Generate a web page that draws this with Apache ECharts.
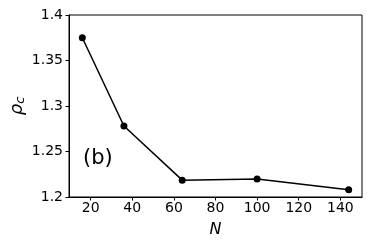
<!DOCTYPE html>
<html>
<head>
<meta charset="utf-8">
<script src="https://cdn.jsdelivr.net/npm/echarts@6/dist/echarts.min.js"></script>
<style>html,body{margin:0;padding:0;background:#fff;}#c{width:374px;height:249px;}</style>
</head>
<body>
<div id="c"></div>
<script>
const nValues = [16, 36, 64, 100, 144];
const rhoValues = [1.375, 1.278, 1.2185, 1.2198, 1.208];
const xTicks = [20, 40, 60, 80, 100, 120, 140];
const yTicks = [1.2, 1.25, 1.3, 1.35, 1.4];

const chart = echarts.init(document.getElementById('c'), null, {renderer: 'canvas'});
const font = 'DejaVu Sans';
chart.setOption({
  animation: false,
  backgroundColor: '#fff',
  grid: {left: 69, right: 12, top: 15, bottom: 52, show: true, borderColor: '#000', borderWidth: 1, backgroundColor: 'transparent', containLabel: false, outerBoundsMode: 'none'},
  xAxis: {
    type: 'value', min: 9.6, max: 150.4,
    name: 'N', nameLocation: 'middle', nameGap: 25, nameMoveOverlap: false,
    nameTextStyle: {fontFamily: font, fontStyle: 'italic', fontSize: 16, color: '#000'},
    axisLine: {show: true, lineStyle: {color: '#000', width: 1}},
    axisTick: {show: true, length: 3.5, lineStyle: {color: '#000'}, customValues: xTicks},
    axisLabel: {fontFamily: font, fontSize: 14, color: '#000', margin: 4, customValues: xTicks},
    splitLine: {show: false}
  },
  yAxis: {
    type: 'value', min: 1.2, max: 1.4,
    name: '{a|ρ}{b|c}', nameLocation: 'middle', nameGap: 41, nameRotate: 90, nameMoveOverlap: false,
    nameTextStyle: {rich: {
      a: {fontFamily: font, fontStyle: 'italic', fontSize: 18, color: '#000', lineHeight: 22},
      b: {fontFamily: font, fontStyle: 'italic', fontSize: 13, color: '#000', lineHeight: 22, padding: [8, 0, 0, 0]}
    }},
    axisLine: {show: true, lineStyle: {color: '#000', width: 1}},
    axisTick: {show: true, length: 3.5, lineStyle: {color: '#000'}, customValues: yTicks},
    axisLabel: {fontFamily: font, fontSize: 14, color: '#000', margin: 6, customValues: yTicks},
    splitLine: {show: false}
  },
  graphic: [{
    type: 'text', left: 83, top: 148,
    style: {text: '(b)', fontFamily: font, fontSize: 21, fill: '#000'}
  }],
  series: [{
    type: 'line',
    data: nValues.map((n, i) => [n, rhoValues[i]]),
    symbol: 'circle', symbolSize: 7,
    itemStyle: {color: '#000'},
    lineStyle: {color: '#000', width: 1.5}
  }]
});
</script>
</body>
</html>
